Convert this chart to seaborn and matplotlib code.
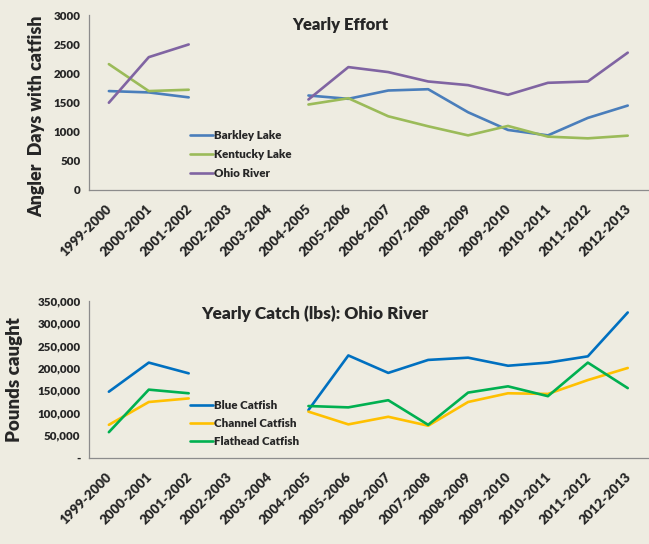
import numpy as np
import pandas as pd
import matplotlib
matplotlib.use("Agg")
import matplotlib.pyplot as plt
import matplotlib.transforms as mtransforms
import seaborn as sns

# season labels on the x axis
seasons = ["1999-2000", "2000-2001", "2001-2002", "2002-2003", "2003-2004",
           "2004-2005", "2005-2006", "2006-2007", "2007-2008", "2008-2009",
           "2009-2010", "2010-2011", "2011-2012", "2012-2013"]

nan = np.nan
# angler days with catfish
barkley = [1697, 1674, 1589, nan, nan, 1621, 1564, 1707, 1729, 1333, 1029, 936, 1236, 1448]
kentucky = [2160, 1697, 1720, nan, nan, 1466, 1574, 1264, 1092, 936, 1098, 914, 885, 931]
ohio = [1497, 2280, 2498, nan, nan, 1552, 2109, 2023, 1862, 1799, 1633, 1839, 1862, 2357]

# pounds caught, Ohio River
blue_cat = [147000, 212000, 188000, nan, nan, 106000, 228000, 189000, 218000, 223000,
            205000, 212000, 226000, 324000]
channel_cat = [73000, 124000, 132000, nan, nan, 102500, 74000, 91000, 71000, 124000,
               143500, 142000, 173000, 200000]
flathead_cat = [56600, 151600, 143500, nan, nan, 115000, 112000, 128000, 73000, 145000,
                159000, 137000, 212000, 155000]

BG = "#EEECE1"
FONT = ["Lato", "DejaVu Sans"]
W = "heavy"


def long_frame(series):
    rows = []
    for name, vals in series.items():
        seg = 0
        for i, v in enumerate(vals):
            if np.isnan(v):
                seg += 1
                continue
            rows.append({"x": i, "value": v, "series": name, "seg": seg})
    return pd.DataFrame(rows)


def style_axis(ax, fig):
    ax.set_facecolor(BG)
    for s in ["top", "right"]:
        ax.spines[s].set_visible(False)
    for s in ["left", "bottom"]:
        ax.spines[s].set_color("#8C8C8C")
        ax.spines[s].set_linewidth(0.9)
    ax.set_xlim(-0.5, len(seasons) - 0.5)
    ax.set_xticks(range(len(seasons)))
    ax.set_xticklabels(seasons, rotation=45, ha="right", rotation_mode="anchor",
                       fontsize=9.6, fontweight=W, family=FONT)
    ax.tick_params(axis="x", which="major", length=0, pad=2)
    shift = mtransforms.ScaledTranslation(-3 / 100, -10 / 100, fig.dpi_scale_trans)
    for lab in ax.get_xticklabels():
        lab.set_transform(lab.get_transform() + shift)
    ax.set_xticks(np.arange(-0.5, len(seasons)), minor=True)
    ax.tick_params(axis="x", which="minor", length=4, color="#8C8C8C", direction="out")
    ax.tick_params(axis="y", length=4, color="#8C8C8C", direction="out", labelsize=8.3, pad=2)
    for lab in ax.get_yticklabels():
        lab.set_fontweight(W)
        lab.set_family(FONT)
    ax.set_xlabel("")
    ax.grid(False)


sns.set_style("white")
plt.rcParams["font.family"] = FONT

fig = plt.figure(figsize=(6.49, 5.44), dpi=100)
fig.patch.set_facecolor(BG)

# top panel: yearly effort
ax1 = fig.add_axes([0.137, 0.651, 0.861, 0.321])
effort = long_frame({"Barkley Lake": barkley, "Kentucky Lake": kentucky, "Ohio River": ohio})
sns.lineplot(data=effort, x="x", y="value", hue="series", units="seg", estimator=None,
             palette=["#4A7EBB", "#9BBB59", "#8064A2"], linewidth=1.9, ax=ax1)
ax1.set_ylim(0, 3000)
ax1.set_yticks(range(0, 3001, 500))
style_axis(ax1, fig)
ax1.set_ylabel("Angler  Days with catfish", fontsize=12.9, fontweight=W)
ax1.yaxis.set_label_coords(-0.079, 0.42)
ax1.set_title("Yearly Effort", fontsize=12, fontweight=W, x=0.45, y=0.87)
leg = ax1.legend(loc="lower left", bbox_to_anchor=(0.163, 0.0), frameon=False,
                 handlelength=2.0, handletextpad=0.05, labelspacing=0.72, fontsize=8.3)
for t in leg.get_texts():
    t.set_fontweight(W)

# bottom panel: yearly catch
ax2 = fig.add_axes([0.137, 0.159, 0.861, 0.288])
catch = long_frame({"Blue Catfish": blue_cat, "Channel Catfish": channel_cat,
                    "Flathead Catfish": flathead_cat})
sns.lineplot(data=catch, x="x", y="value", hue="series", units="seg", estimator=None,
             palette=["#0070C0", "#FFC000", "#00B050"], linewidth=1.9, ax=ax2)
ax2.set_ylim(0, 350000)
ax2.set_yticks(range(0, 350001, 50000))
ax2.yaxis.set_major_formatter(plt.FuncFormatter(lambda v, p: "-" if v == 0 else f"{int(v):,}"))
style_axis(ax2, fig)
ax2.set_ylabel("Pounds caught", fontsize=13.5, fontweight=W)
ax2.yaxis.set_label_coords(-0.118, 0.5)
ax2.set_title("Yearly Catch (lbs): Ohio River", fontsize=12.4, fontweight=W,
              x=0.405, y=0.83)
leg = ax2.legend(loc="lower left", bbox_to_anchor=(0.163, 0.0), frameon=False,
                 handlelength=2.0, handletextpad=0.05, labelspacing=0.62, fontsize=8.3)
for t in leg.get_texts():
    t.set_fontweight(W)

fig.savefig("out.png", dpi=100, facecolor=BG)
